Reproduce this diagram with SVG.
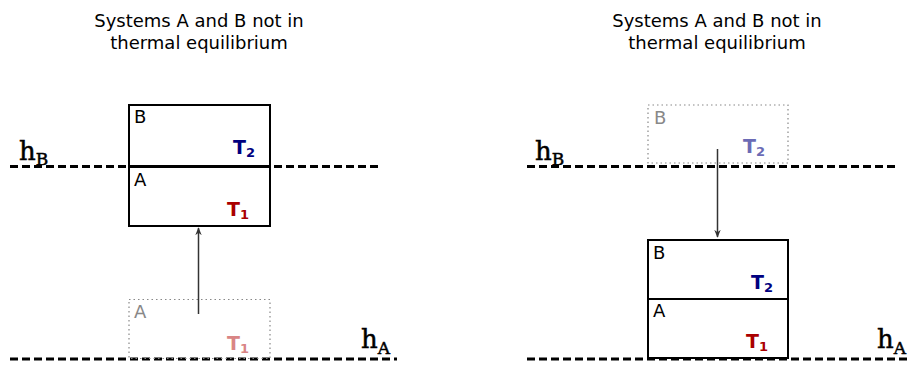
<svg xmlns="http://www.w3.org/2000/svg" width="911" height="368" viewBox="0 0 911 368">
<style>
.title{font-family:"DejaVu Sans",sans-serif;font-size:18px;fill:#000;text-anchor:middle}
.lbl{font-family:"DejaVu Sans",sans-serif;font-size:18px;fill:#000}
.faded{fill:#888}
.t{font-family:"DejaVu Sans",sans-serif;font-size:19px;font-weight:bold}
.sub{font-size:13px}
.h{font-family:"DejaVu Serif",serif;font-size:26px;fill:#000;stroke:#000;stroke-width:0.5}
.hs{font-size:17px}
.box{fill:none;stroke:#000;stroke-width:2}
.dot{fill:none;stroke:#888;stroke-width:1.2;stroke-dasharray:1.5 3}
.level{stroke:#000;stroke-width:3;stroke-dasharray:8 4;fill:none}
.arrow{stroke:#333;stroke-width:1.5;fill:none;marker-end:url(#ah)}
</style>
<defs>
<marker id="ah" viewBox="0 0 10 10" refX="9" refY="5" markerWidth="8" markerHeight="8" orient="auto" markerUnits="userSpaceOnUse">
<path d="M0,1 L10,5 L0,9 L3,5 Z" fill="#333"/>
</marker>
</defs>
<g id="titles">
<text class="title" x="199" y="27">Systems A and B not in</text>
<text class="title" x="199" y="49">thermal equilibrium</text>
<text class="title" x="717" y="27">Systems A and B not in</text>
<text class="title" x="717" y="49">thermal equilibrium</text>
</g>
<g id="levels">
<line class="level" x1="10" y1="166.5" x2="380" y2="166.5"/>
<line class="level" x1="10" y1="359" x2="397" y2="359"/>
<line class="level" x1="527" y1="166.5" x2="897" y2="166.5"/>
<line class="level" x1="527" y1="359" x2="910" y2="359"/>
<text class="h" x="19" y="160">h<tspan class="hs" dy="5">B</tspan></text>
<text class="h" x="361" y="348">h<tspan class="hs" dy="6">A</tspan></text>
<text class="h" x="535" y="160">h<tspan class="hs" dy="5">B</tspan></text>
<text class="h" x="877" y="348">h<tspan class="hs" dy="6">A</tspan></text>
</g>
<g id="left-ghost-A">
<rect class="dot" x="129" y="299.5" width="141" height="59"/>
<text class="lbl faded" x="134" y="318">A</text>
<text class="t" x="227" y="350" fill="#d98585">T<tspan class="sub" dy="3">1</tspan></text>
</g>
<g id="left-B">
<rect class="box" x="129" y="105" width="141" height="61"/>
<text class="lbl" x="134" y="123">B</text>
<text class="t" x="233" y="154" fill="#000080">T<tspan class="sub" dy="3">2</tspan></text>
</g>
<g id="left-A">
<rect class="box" x="129" y="167" width="141" height="59"/>
<text class="lbl" x="134" y="186">A</text>
<text class="t" x="227" y="216" fill="#aa0000">T<tspan class="sub" dy="3">1</tspan></text>
</g>
<g id="right-ghost-B">
<rect class="dot" x="648" y="105" width="140" height="58"/>
<text class="lbl faded" x="654" y="124">B</text>
<text class="t" x="743" y="153" fill="#6b6bb5">T<tspan class="sub" dy="3">2</tspan></text>
</g>
<g id="right-B">
<rect class="box" x="648" y="240" width="140" height="59"/>
<text class="lbl" x="653" y="259">B</text>
<text class="t" x="751" y="289" fill="#000080">T<tspan class="sub" dy="3">2</tspan></text>
</g>
<g id="right-A">
<rect class="box" x="648" y="299" width="140" height="59"/>
<text class="lbl" x="653" y="317">A</text>
<text class="t" x="746" y="348" fill="#aa0000">T<tspan class="sub" dy="3">1</tspan></text>
</g>
<g id="connectors">
<line class="arrow" x1="198.5" y1="314" x2="198.5" y2="228"/>
<line class="arrow" x1="717.5" y1="149" x2="717.5" y2="237"/>
</g>
</svg>
